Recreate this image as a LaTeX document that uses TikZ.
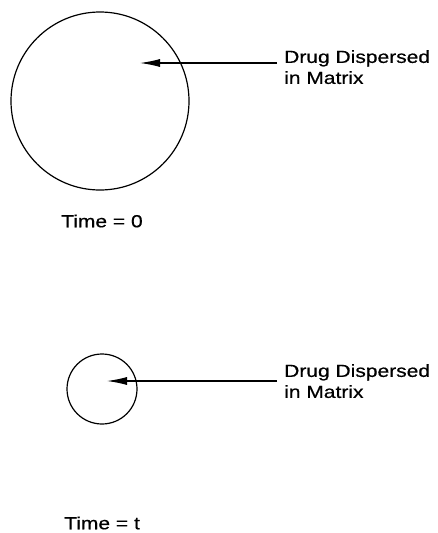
\documentclass[tikz,border=0pt]{standalone}
\usepackage{fontspec}
\setsansfont[FakeStretch=1.2,FakeBold=0.6]{Liberation Sans}
\usetikzlibrary{arrows.meta}
\begin{document}
\begin{tikzpicture}[font=\sffamily\fontsize{17.5}{21}\selectfont,x=1pt,y=-1pt,
  matrixball/.style={draw,line width=1.2pt},
  pointer/.style={line width=1.1pt,-{Latex[length=20pt,width=8pt]}},
  lbl/.style={inner sep=0pt,align=left}]
\useasboundingbox (0,0) rectangle (437,533);
% time = 0
\draw[matrixball] (100,101) circle[radius=89];
\coordinate (tip0) at (140,63); \coordinate (lead0) at (277,63);
\node[lbl,anchor=north west] (drug0) at (284,50) {Drug Dispersed\\in Matrix};
\draw[pointer] (lead0)--(tip0);
\node[lbl,anchor=west] (time0) at (61,221) {Time = 0};
% time = t
\draw[matrixball] (102,389) circle[radius=35];
\coordinate (tipt) at (107,381); \coordinate (leadt) at (277,381);
\node[lbl,anchor=north west] (drugt) at (284,364) {Drug Dispersed\\in Matrix};
\draw[pointer] (leadt)--(tipt);
\node[lbl,anchor=west] (timet) at (64,523) {Time = t};
\end{tikzpicture}
\end{document}
